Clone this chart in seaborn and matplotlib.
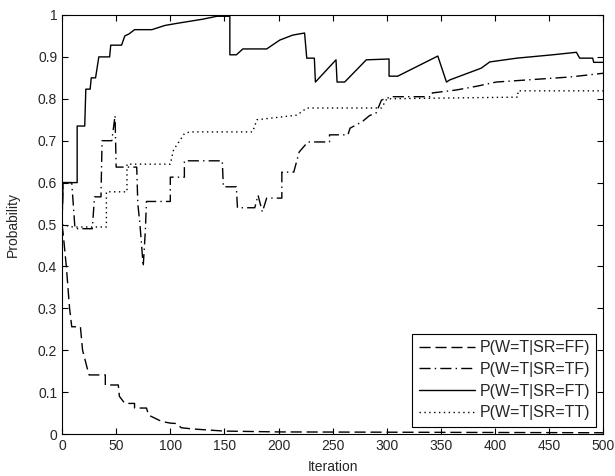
import matplotlib
matplotlib.use('Agg')
import matplotlib.pyplot as plt
import seaborn as sns

# values (iteration, probability)
ff_x = [0, 1, 4, 7, 9, 17, 19, 24, 25, 40, 40, 52, 53, 58, 67, 67, 78, 80, 88, 92, 100, 106, 110, 121, 150, 200, 500]
ff_y = [0.5, 0.48, 0.40, 0.30, 0.256, 0.256, 0.2, 0.15, 0.141, 0.141, 0.117, 0.117, 0.09, 0.073, 0.073,
        0.062, 0.062, 0.045, 0.035, 0.03, 0.026, 0.025, 0.015, 0.012, 0.007, 0.005, 0.003]

tf_x = [0, 1, 9, 12, 28, 30, 36, 37, 46, 49, 50, 69, 70, 72, 75, 77, 78, 100, 100, 113, 113, 148, 149,
        161, 162, 178, 181, 185, 189, 203, 203, 214, 219, 227, 247, 247, 264, 266, 277, 284, 290, 295,
        304, 341, 342, 364, 383, 401, 469, 500]
tf_y = [0.5, 0.6, 0.6, 0.49, 0.49, 0.566, 0.566, 0.70, 0.70, 0.76, 0.637, 0.637, 0.55, 0.50, 0.40, 0.487,
        0.555, 0.555, 0.613, 0.613, 0.652, 0.652, 0.59, 0.59, 0.54, 0.54, 0.57, 0.53, 0.563, 0.563, 0.625,
        0.625, 0.673, 0.697, 0.697, 0.714, 0.714, 0.73, 0.745, 0.76, 0.766, 0.797, 0.805, 0.805, 0.814,
        0.821, 0.83, 0.84, 0.852, 0.861]

ft_x = [0, 1, 14, 14, 21, 22, 26, 27, 31, 34, 44, 45, 55, 58, 62, 67, 83, 95, 106, 130, 143, 155, 155,
        161, 167, 189, 201, 213, 224, 226, 233, 234, 253, 254, 261, 281, 302, 302, 310, 347, 355, 358,
        387, 395, 420, 453, 475, 478, 490, 491, 500]
ft_y = [0.5, 0.6, 0.6, 0.735, 0.735, 0.823, 0.823, 0.85, 0.85, 0.9, 0.9, 0.928, 0.928, 0.95, 0.955, 0.965,
        0.965, 0.975, 0.98, 0.99, 0.997, 0.997, 0.905, 0.905, 0.919, 0.919, 0.94, 0.952, 0.957, 0.897,
        0.897, 0.84, 0.893, 0.84, 0.84, 0.893, 0.895, 0.854, 0.854, 0.902, 0.84, 0.845, 0.873, 0.888,
        0.897, 0.905, 0.911, 0.897, 0.897, 0.887, 0.887]

tt_x = [0, 10, 41, 41, 60, 60, 100, 103, 113, 118, 176, 180, 217, 226, 295, 300, 421, 421, 500]
tt_y = [0.5, 0.494, 0.494, 0.578, 0.578, 0.644, 0.644, 0.678, 0.717, 0.721, 0.721, 0.75, 0.761, 0.778,
        0.778, 0.80, 0.804, 0.819, 0.819]

labels = ['P(W=T|SR=FF)', 'P(W=T|SR=TF)', 'P(W=T|SR=FT)', 'P(W=T|SR=TT)']
x_ticks = list(range(0, 501, 50))
y_ticks = [0, 0.1, 0.2, 0.3, 0.4, 0.5, 0.6, 0.7, 0.8, 0.9, 1]
y_tick_labels = ['0', '0.1', '0.2', '0.3', '0.4', '0.5', '0.6', '0.7', '0.8', '0.9', '1']

sns.set_style('ticks')
plt.rcParams['font.family'] = ['Liberation Sans', 'DejaVu Sans']
plt.rcParams['xtick.direction'] = 'in'
plt.rcParams['ytick.direction'] = 'in'

fig = plt.figure(figsize=(6.15, 4.76), dpi=100)
ax = fig.add_axes([0.1008, 0.0882, 0.8805, 0.8803])

series = [(ff_x, ff_y, (0, (8, 3.5))),
          (tf_x, tf_y, (0, (8, 3, 1, 3))),
          (ft_x, ft_y, '-'),
          (tt_x, tt_y, (0, (1, 2.5)))]
for (xs, ys, ls), lab in zip(series, labels):
    sns.lineplot(x=xs, y=ys, ax=ax, estimator=None, sort=False, color='black',
                 linewidth=1.0, linestyle=ls, label=lab)

ax.set_xlim(0, 500)
ax.set_ylim(0, 1)
ax.set_xticks(x_ticks)
ax.set_xticklabels([str(t) for t in x_ticks])
ax.set_yticks(y_ticks)
ax.set_yticklabels(y_tick_labels)
ax.tick_params(axis='both', which='both', labelsize=10, length=4, width=0.8,
               top=True, right=True, color='black')
for s in ax.spines.values():
    s.set_color('black')
    s.set_linewidth(0.8)
ax.set_xlabel('Iteration', fontsize=10, labelpad=5)
ax.set_ylabel('Probability', fontsize=10, labelpad=13)

leg = ax.legend(loc='lower right', fontsize=11.5, frameon=True, fancybox=False, framealpha=1,
                edgecolor='black', handlelength=3.5, labelspacing=0.42, borderpad=0.4,
                handletextpad=0.3, borderaxespad=0.45)
leg.get_frame().set_linewidth(0.8)

plt.savefig('out.png', dpi=100)
